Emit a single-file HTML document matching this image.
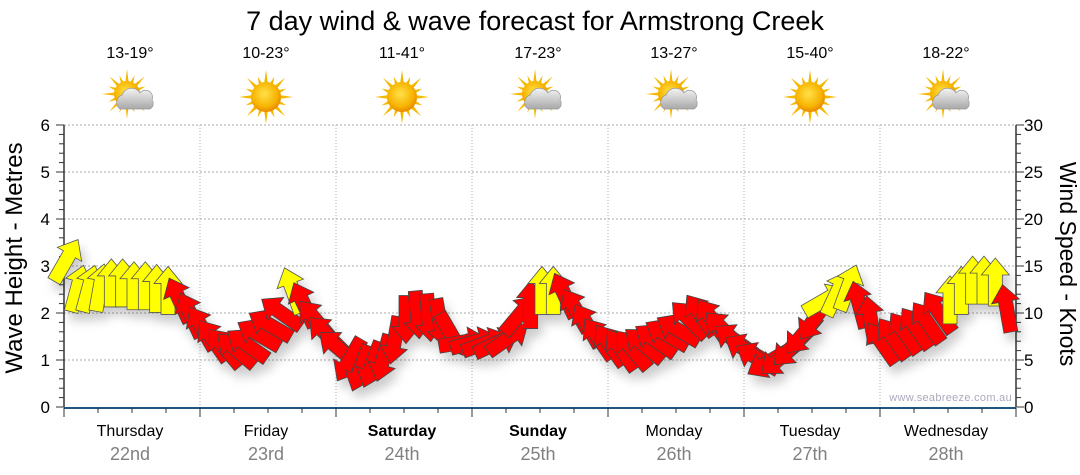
<!DOCTYPE html>
<html><head><meta charset="utf-8">
<style>
html,body{margin:0;padding:0;background:#fff;}
svg{display:block;font-family:"Liberation Sans","DejaVu Sans",sans-serif;}
</style></head>
<body>
<svg id="chart" width="1080" height="475" viewBox="0 0 1080 475" xmlns="http://www.w3.org/2000/svg">
<defs>
<filter id="shadow" x="-20%" y="-20%" width="140%" height="160%">
<feDropShadow dx="4" dy="8" stdDeviation="5" flood-color="#000" flood-opacity="0.2"/>
</filter>
<radialGradient id="sunG" cx="45%" cy="40%" r="60%"><stop offset="0" stop-color="#ffe14a"/><stop offset="0.7" stop-color="#f7b400"/><stop offset="1" stop-color="#e88a00"/></radialGradient>
<linearGradient id="cloudG" x1="0" y1="0" x2="0" y2="1"><stop offset="0" stop-color="#f4f4f4"/><stop offset="1" stop-color="#a8a8a8"/></linearGradient>
</defs>
<text x="535" y="30" text-anchor="middle" font-size="27" fill="#000">7 day wind &amp; wave forecast for Armstrong Creek</text>
<g id="grid"></g>
<g id="header"></g>
<g id="axes"></g>
<text x="1012" y="401" text-anchor="end" font-size="11" fill="#aab" letter-spacing="0.3">www.seabreeze.com.au</text>
<g id="arrows" filter="url(#shadow)"></g>
<text transform="translate(22,258) rotate(-90)" text-anchor="middle" font-size="24" fill="#000">Wave Height - Metres</text>
<text transform="translate(1060,264) rotate(90)" text-anchor="middle" font-size="23" fill="#000">Wind Speed - Knots</text>
</svg>
<script>
const days = ["Thursday","Friday","Saturday","Sunday","Monday","Tuesday","Wednesday"];
const dates = ["22nd","23rd","24th","25th","26th","27th","28th"];
const boldDays = [false,false,true,true,false,false,false];
const temps = ["13-19°","10-23°","11-41°","17-23°","13-27°","15-40°","18-22°"];
const icons = ["partly","sun","sun","partly","partly","sun","partly"];
const waveTicks = [0,1,2,3,4,5,6];
const windTicks = [0,5,10,15,20,25,30];
// wind speed (knots), every 2 hours
const windSpeed = [15.6,12.6,12.6,12.7,13.2,13.2,12.9,12.9,12.6,12.4,11.4,9.8,
  8.4,7.1,6.3,6.1,6.6,7.7,8.7,10.0,12.4,10.9,9.3,7.7,
  6.3,5.0,4.1,4.5,5.2,7.1,9.3,9.8,9.5,9.0,7.7,6.9,
  6.9,6.8,6.8,7.3,9.8,10.9,12.4,12.4,11.9,10.3,8.7,7.3,
  6.6,6.1,6.1,6.6,7.1,7.7,8.2,9.3,9.8,9.3,8.2,7.1,
  6.1,5.2,4.8,5.2,6.3,7.7,9.3,11.4,12.1,12.7,10.9,9.3,
  6.8,7.3,7.9,8.4,9.0,10.1,11.4,12.4,13.5,13.5,13.3,10.5];
// direction the arrow points (degrees, 0 = up, clockwise)
const windDir = [30,15,15,10,0,0,0,0,0,0,-25,-25,
  -30,-35,-40,-50,-55,-60,-60,-55,-20,-25,-40,-45,
  -50,210,200,200,195,190,180,175,175,170,150,80,
  75,70,65,55,40,0,0,0,-25,-30,-30,-35,
  -35,-35,-40,-50,-55,-60,-60,-45,-35,-35,-45,-55,
  -60,-60,240,230,225,220,215,60,25,20,-15,-10,
  -35,-35,-35,-35,-35,-35,0,0,0,0,0,-10];
// arrow colour category: 1 = yellow, 0 = red
const windColor = [1,1,1,1,1,1,1,1,1,1,0,0,
  0,0,0,0,0,0,0,0,1,0,0,0,
  0,0,0,0,0,0,0,0,0,0,0,0,
  0,0,0,0,0,0,1,1,0,0,0,0,
  0,0,0,0,0,0,0,0,0,0,0,0,
  0,0,0,0,0,0,0,1,1,1,0,0,
  0,0,0,0,0,0,1,1,1,1,1,0];

const NS="http://www.w3.org/2000/svg";
const X0=64,X1=1016,Y0=407,Y1=125,dayW=(X1-X0)/7;
const yWave=v=>Y0-(v/6)*(Y0-Y1);
const yWind=v=>Y0-(v/30)*(Y0-Y1);
const xHour=h=>X0+h*dayW/24;
function el(tag,attrs,parent){const e=document.createElementNS(NS,tag);for(const k in attrs)e.setAttribute(k,attrs[k]);parent.appendChild(e);return e;}
const grid=document.getElementById('grid'),axes=document.getElementById('axes'),header=document.getElementById('header'),arrows=document.getElementById('arrows');

waveTicks.forEach(v=>{ if(v>0){const g=el('line',{x1:X0,x2:X1,y1:yWave(v),y2:yWave(v),stroke:'#aaa','stroke-dasharray':'2,2'},grid);

}
const t=el('text',{x:50,y:yWave(v)+6,'text-anchor':'end','font-size':17,fill:'#000'},axes);t.textContent=v;


});
windTicks.forEach(v=>{const t=el('text',{x:1024,y:yWind(v)+6,'font-size':17,fill:'#000'},axes);t.textContent=v;


});
for(let i=0;i<=30;i++){const y=Y0-i*(Y0-Y1)/30;const big=i%5===0;
el('line',{x1:X0-(big?8:5),x2:X0,y1:y,y2:y,stroke:'#333'},axes);
el('line',{x1:X1,x2:X1+(big?8:5),y1:y,y2:y,stroke:'#333'},axes);}
el('line',{x1:X0,x2:X0,y1:Y1,y2:Y0,stroke:'#333','stroke-width':1.5},axes);
el('line',{x1:X1,x2:X1,y1:Y1,y2:Y0,stroke:'#333','stroke-width':1.5},axes);
el('line',{x1:X0,x2:X1,y1:Y0+1,y2:Y0+1,stroke:'#1f5580','stroke-width':2},axes);
for(let i=0;i<=28;i++){const x=X0+i*dayW/4;el('line',{x1:x,x2:x,y1:Y0+1,y2:Y0+(i%4===0?10:6),stroke:'#333'},axes);}
for(let d=1;d<7;d++){const x=X0+d*dayW;const g=el('line',{x1:x,x2:x,y1:Y1,y2:Y0,stroke:'#aaa','stroke-dasharray':'1,2'},grid);

}

function sun(cx,cy,r,parent){
  for(let i=0;i<16;i++){const a=i*Math.PI/8;const L=(i%2?r+7:r+12);
    const p=[[cx+Math.cos(a)*L,cy+Math.sin(a)*L],[cx+Math.cos(a+0.18)*r*0.8,cy+Math.sin(a+0.18)*r*0.8],[cx+Math.cos(a-0.18)*r*0.8,cy+Math.sin(a-0.18)*r*0.8]];
    el('polygon',{points:p.map(q=>q.join(',')).join(' '),fill:'#f5b800'},parent);}
  el('circle',{cx,cy,r,fill:'url(#sunG)'},parent);
}
days.forEach((d,i)=>{const cx=X0+(i+0.5)*dayW-2;
 const t=el('text',{x:cx,y:58,'text-anchor':'middle','font-size':16,fill:'#000'},header);t.textContent=temps[i];
 
 
 const g=el('g',{},header);
 
 
 if(icons[i]==='sun'){sun(cx,97,15,g);}else{sun(cx-3,94,13,g);
   el('path',{d:`M${cx-10},${109} a8,8 0 0 1 2,-14 a10,10 0 0 1 18,-2 a7,7 0 0 1 12,7 a6,6 0 0 1 -2,9 z`,fill:'url(#cloudG)',stroke:'#999','stroke-width':0.7},g);}
 const dl=el('text',{x:cx,y:436,'text-anchor':'middle','font-size':16,fill:'#000','font-weight':boldDays[i]?'bold':'normal'},axes);dl.textContent=d;
 
 
 const dt=el('text',{x:cx,y:460,'text-anchor':'middle','font-size':18,fill:'#808080'},axes);dt.textContent=dates[i];
 
 
});

const shape="0,-24 14,-7 7,-7 7,24 -7,24 -7,-7 -14,-7";
windSpeed.forEach((v,i)=>{
 const x=xHour(i*2)+2,y=yWind(v);const dir=windDir[i];
 const yellow=windColor[i]===1;
 const a=el('polygon',{points:shape,transform:`translate(${x},${y}) rotate(${dir})`,fill:yellow?'#ffff00':'#ff0000',stroke:yellow?'#555':'#444','stroke-width':0.8},arrows);
 
 
});
</script>
</body></html>
